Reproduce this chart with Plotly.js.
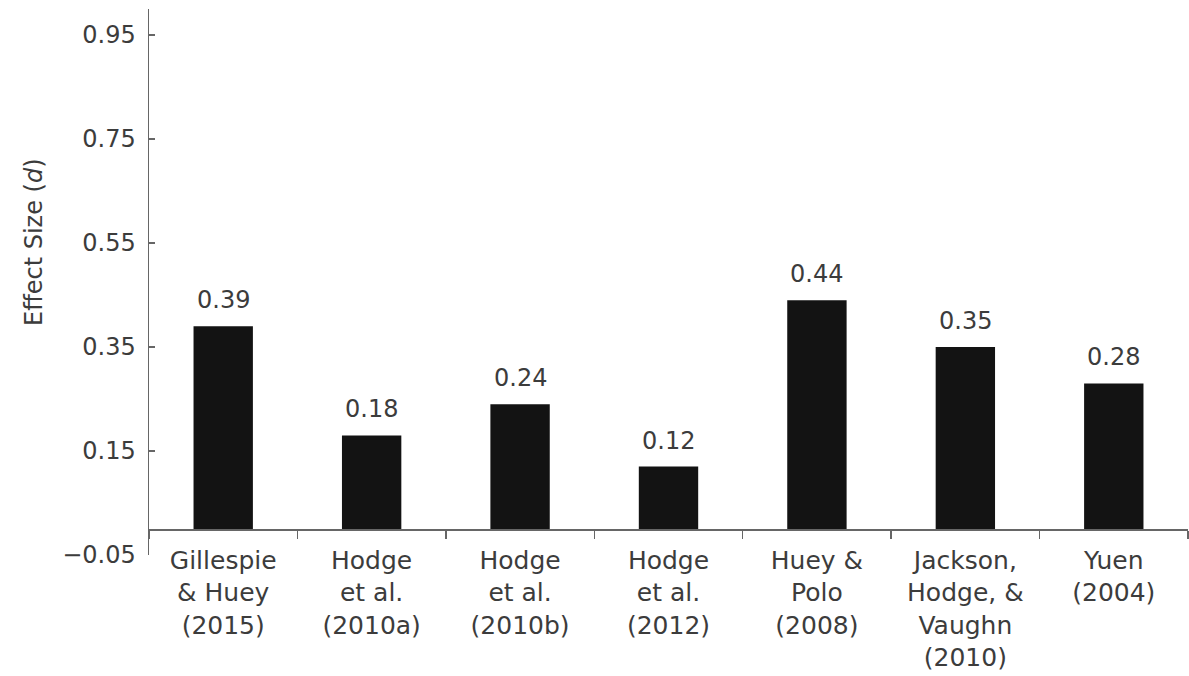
<!DOCTYPE html>
<html>
<head>
<meta charset="utf-8">
<script src="https://cdn.plot.ly/plotly-3.0.1.min.js"></script>
<style>
html,body{margin:0;padding:0;background:#fff;}
#chart{width:1189px;height:676px;}
</style>
</head>
<body>
<div id="chart"></div>
<script>
const categories = [
  "Gillespie<br>& Huey<br>(2015)",
  "Hodge<br>et al.<br>(2010a)",
  "Hodge<br>et al.<br>(2010b)",
  "Hodge<br>et al.<br>(2012)",
  "Huey &<br>Polo<br>(2008)",
  "Jackson,<br>Hodge, &<br>Vaughn<br>(2010)",
  "Yuen<br>(2004)"
];
const effectSizes = [0.39, 0.18, 0.24, 0.12, 0.44, 0.35, 0.28];
const valueLabels = ["0.39", "0.18", "0.24", "0.12", "0.44", "0.35", "0.28"];
const yTickVals = [-0.05, 0.15, 0.35, 0.55, 0.75, 0.95];
const yTickText = ["\u22120.05", "0.15", "0.35", "0.55", "0.75", "0.95"];
const yTitle = "Effect Size (<i>d</i>)";

const FONT = "DejaVu Sans, Arial, sans-serif";
const TXT = "#3c3c3c";
const AX = "#666666";

const trace = {
  type: "bar",
  x: categories,
  y: effectSizes,
  width: 0.4,
  marker: {color: "#131313", line: {width: 0}},
  hoverinfo: "skip"
};

const annotations = categories.map((c, i) => ({
  x: c, y: effectSizes[i], xref: "x", yref: "y",
  text: valueLabels[i], showarrow: false,
  yanchor: "bottom", yshift: 10,
  font: {family: FONT, size: 24, color: TXT}
}));

annotations.push({
  xref: "paper", yref: "paper",
  x: (34 - 149) / 1039, y: (555 - 242) / 546,
  xanchor: "center", yanchor: "middle",
  textangle: -90, showarrow: false,
  text: yTitle,
  font: {family: FONT, size: 24, color: TXT}
});

const layout = {
  width: 1189, height: 676,
  margin: {l: 149, r: 1, t: 9, b: 121},
  paper_bgcolor: "#fff", plot_bgcolor: "#fff",
  showlegend: false,
  font: {family: FONT, size: 24, color: TXT},
  xaxis: {
    type: "category",
    range: [-0.5, 6.5],
    anchor: "free",
    position: 0.05 / 1.05,
    showline: true, linecolor: AX, linewidth: 1.5,
    ticks: "outside", tickson: "boundaries", ticklen: 8, tickwidth: 1.5, tickcolor: AX,
    showgrid: false, zeroline: false,
    ticklabelstandoff: 8,
    tickfont: {family: FONT, size: 25, color: TXT},
    fixedrange: true
  },
  yaxis: {
    range: [-0.05, 1.0],
    tickvals: yTickVals, ticktext: yTickText,
    showline: true, linecolor: AX, linewidth: 1.5,
    ticks: "inside", ticklen: 6, tickwidth: 1.5, tickcolor: AX,
    showgrid: false, zeroline: false,
    ticklabelstandoff: 7,
    tickfont: {family: FONT, size: 24, color: TXT},
    fixedrange: true
  },
  annotations: annotations
};

Plotly.newPlot("chart", [trace], layout, {displayModeBar: false, staticPlot: true});
</script>
</body>
</html>
